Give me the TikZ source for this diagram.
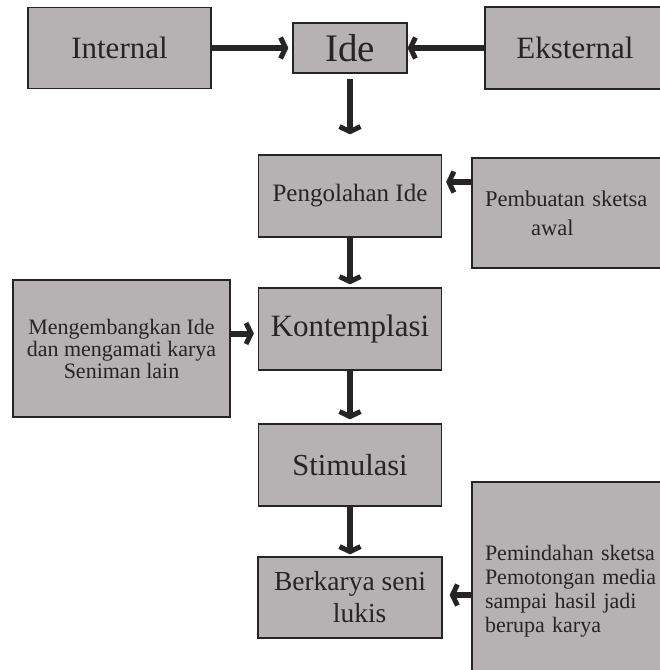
\documentclass[tikz,border=0pt]{standalone}
\usepackage{fontspec}
\setmainfont{Liberation Serif}
\usetikzlibrary{shapes,arrows.meta,positioning,calc}
\usepackage{xcolor}
\definecolor{boxgray}{RGB}{182,177,179}
\definecolor{inkgray}{RGB}{38,36,37}
\newcommand{\fs}[1]{\fontsize{#1}{#1}\selectfont}
\tikzset{
    box/.style={rectangle, draw=inkgray, fill=boxgray, text=inkgray, align=center, inner sep=0pt, line width=1.3pt},
    line/.style={draw, inkgray, -{Straight Barb[length=5pt, width=21pt, line width=5pt]}, line width=6pt}
}

\begin{document}
\begin{tikzpicture}[x=1pt, y=-1pt, node distance=130pt]
    \useasboundingbox (0,0) rectangle (660,670);
    \clip (0,0) rectangle (660,670);

    \node [box, minimum width=114pt, minimum height=50pt, font=\fs{39}] at (350,48) (ide) {Ide};
    \node [box, left of=ide, node distance=230.5pt, minimum width=183pt, minimum height=81pt, font=\fs{31}] (internal) {Internal};
    \node [box, right of=ide, node distance=225pt, minimum width=180pt, minimum height=82pt, font=\fs{31}] (eksternal) {Eksternal};
    \node [box, below of=ide, node distance=148pt, minimum width=183pt, minimum height=82pt, font=\fs{25}] (olah) {Pengolahan Ide};
    \node [box, below of=olah, node distance=133pt, minimum width=183pt, minimum height=82pt, font=\fs{31}] (kontemplasi) {Kontemplasi};
    \node [box, below of=kontemplasi, node distance=136pt, minimum width=183pt, minimum height=82pt, font=\fs{30.5}] (stimulasi) {Stimulasi};
    \node [box, below of=stimulasi, node distance=132.5pt, minimum width=184pt, minimum height=81pt, font=\fontsize{27.5}{32}\selectfont] (berkarya) {Berkarya seni\\\hspace*{0.7em}lukis};

    % side boxes
    \node [box, minimum width=218pt, minimum height=110pt, text width=192pt, align=left, font=\fontsize{22.5}{29}\selectfont] at (581,213) (sketsa) {Pembuatan sketsa\\\hspace*{2.05em}awal};
    \node [box, minimum width=217pt, minimum height=137pt, font=\fontsize{22}{22}\selectfont] at (121.5,348.5) (kembang) {Mengembangkan Ide\\dan mengamati karya\\Seniman lain};
    \node [box, minimum width=228pt, minimum height=218pt, text width=202pt, align=left, font=\fontsize{22}{24}\selectfont] at (586,591) (pindah) {Pemindahan sketsa\\Pemotongan media\\sampai hasil jadi\\berupa karya};

    \path [line, shorten >=4pt] (internal) -- (ide);
    \path [line] (eksternal) -- (ide);
    \path [line, shorten <=5pt, shorten >=20pt] (ide) -- (olah);
    \path [line, shorten >=3pt] (olah) -- (kontemplasi);
    \path [line, shorten >=4pt] (kontemplasi) -- (stimulasi);
    \path [line, shorten >=2pt] (stimulasi) -- (berkarya);
    \path [line, shorten >=4pt] ([yshift=31pt]sketsa.west) -- ([yshift=31pt]sketsa.west -| olah.east);
    \path [line, shorten >=4pt] ([yshift=15pt]kembang.east) -- ([yshift=15pt]kembang.east -| kontemplasi.west);
    \path [line, shorten >=7pt] ([yshift=-4pt]pindah.west) -- ([yshift=-4pt]pindah.west -| berkarya.east);
\end{tikzpicture}
\end{document}
